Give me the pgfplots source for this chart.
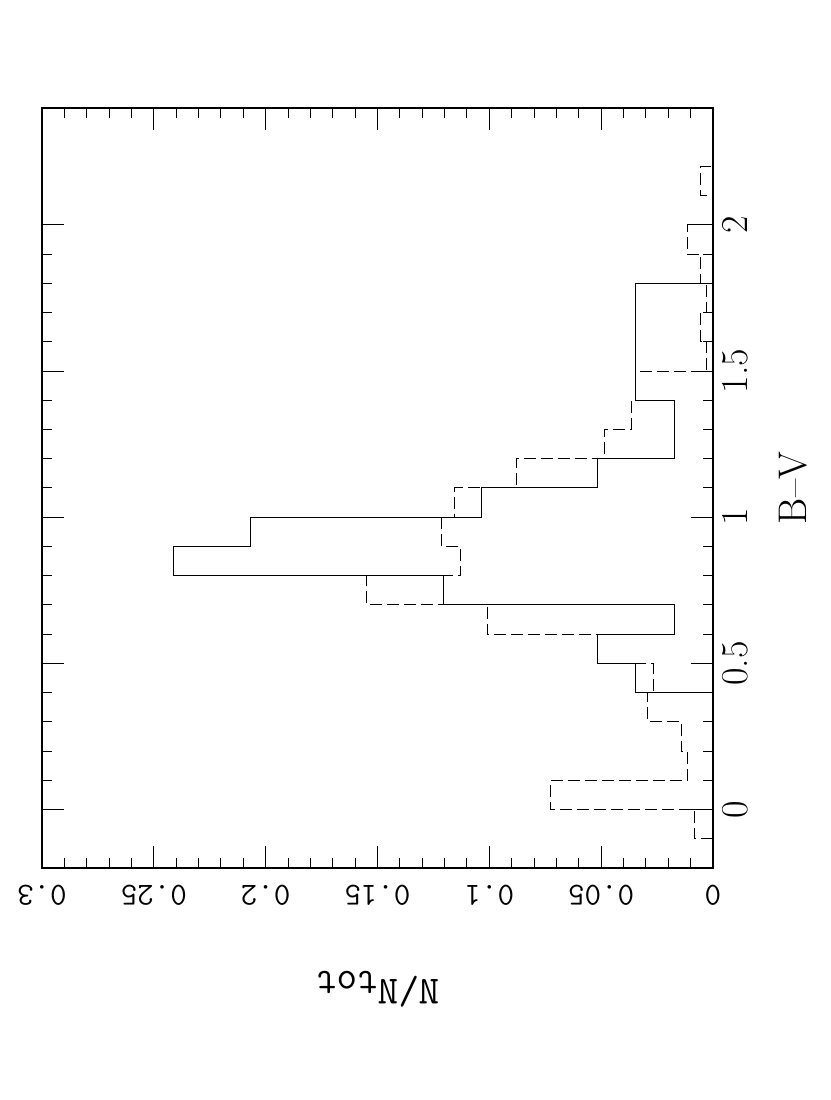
\documentclass[border=0pt]{standalone}
\usepackage{graphicx}
\usepackage{pgfplots}
\pgfplotsset{compat=1.18}

% B-V histograms: solid = one sample, dashed = comparison sample
\pgfplotstableread{
x    f
0.4  0
0.4  0.0345
0.5  0.0517
0.6  0.0172
0.7  0.1207
0.8  0.2414
0.9  0.2069
1.0  0.1034
1.1  0.0517
1.2  0.0172
1.3  0.0172
1.4  0.0345
1.5  0.0345
1.6  0.0345
1.7  0.0345
1.8  0
}\solidhist

\pgfplotstableread{
x    f
-0.1 0
-0.1 0.0083
0.0  0.0726
0.1  0.0114
0.2  0.0141
0.3  0.0293
0.4  0.0268
0.5  0.0517
0.6  0.1010
0.7  0.1550
0.8  0.1130
0.9  0.1215
1.0  0.1156
1.1  0.0879
1.2  0.0487
1.3  0.0366
1.4  0.0345
1.5  0.0027
1.6  0.0054
1.7  0.0027
1.8  0.0054
1.9  0.0116
2.0  0
2.1  0.0055
2.2  0
}\dashhist

\begin{document}
\rotatebox{90}{%
\begin{tikzpicture}
\begin{axis}[
    scale only axis,
    width=380pt, height=335.5pt,
    xmin=-0.2, xmax=2.4,
    ymin=0, ymax=0.3,
    xtick={0,0.5,1,1.5,2},
    xticklabels={0,0.5,1,1.5,2},
    minor x tick num=4,
    ytick={0,0.05,0.1,0.15,0.2,0.25,0.3},
    yticklabels={0,0.05,0.1,0.15,0.2,0.25,0.3},
    minor y tick num=4,
    scaled ticks=false,
    major tick length=11pt,
    minor tick length=5pt,
    tick style={black, line width=0.5pt},
    axis line style={line width=0.8pt},
    xticklabel style={font=\fontsize{19}{21}\selectfont, inner sep=0pt},
    xticklabel shift=4.5pt,
    yticklabel style={font=\fontsize{16}{18}\selectfont\ttfamily, rotate=90, anchor=south, inner sep=0pt},
    yticklabel shift=8.5pt,
    xlabel={B--V},
    xlabel style={font=\fontsize{20}{24}\selectfont, at={(axis description cs:0.5,-0.119)}, anchor=center},
    ylabel={N/N$_{\texttt{tot}}$},
    ylabel style={font=\fontsize{20}{24}\selectfont\ttfamily, at={(axis description cs:-0.147,0.5)}, anchor=base},
]
\addplot[const plot, black, line width=0.5pt] table[x=x, y=f] {\solidhist};
\addplot[const plot, black, line width=0.5pt, dash pattern=on 6pt off 2.5pt] table[x=x, y=f] {\dashhist};
\end{axis}
\pgfresetboundingbox
\path[use as bounding box] ([xshift=-116pt, yshift=-58.5pt]current axis.south west)
    rectangle ([xshift=54pt, yshift=21pt]current axis.north east);
\end{tikzpicture}%
}
\end{document}
